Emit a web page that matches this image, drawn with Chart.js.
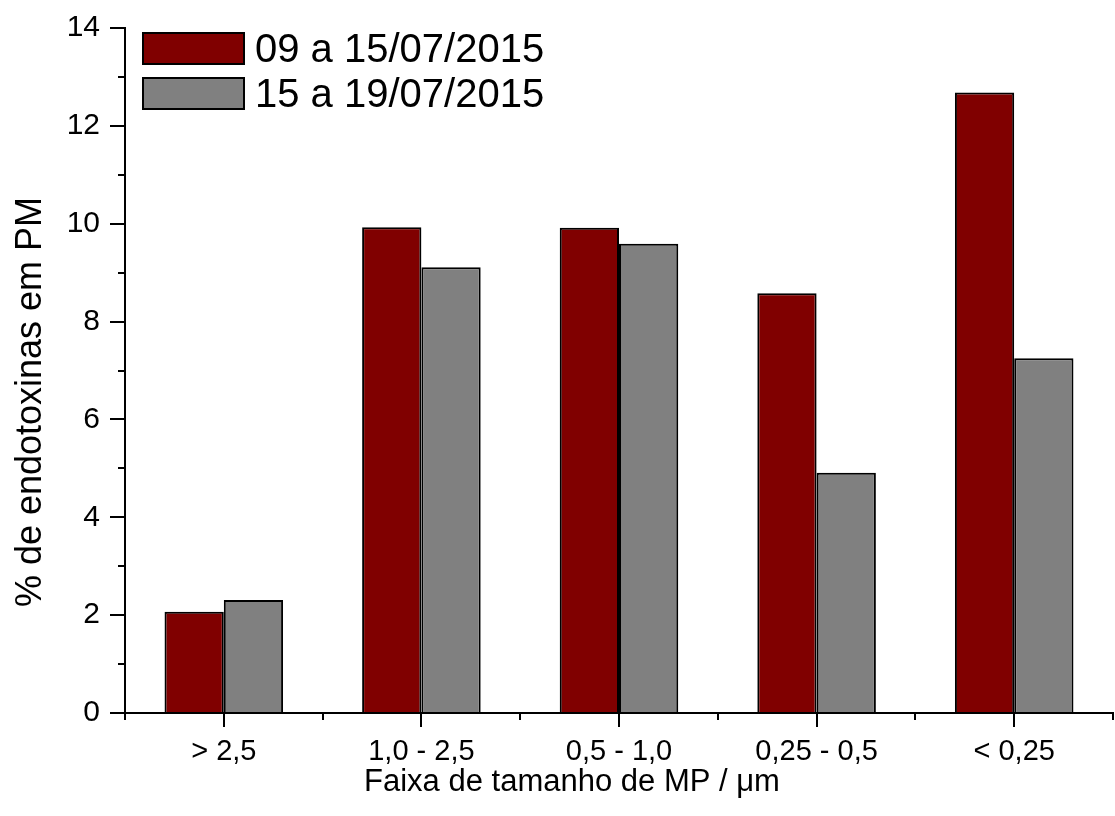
<!DOCTYPE html>
<html>
<head>
<meta charset="utf-8">
<script src="https://cdn.jsdelivr.net/npm/chart.js@4/dist/chart.umd.min.js"></script>
<style>
  html, body { margin: 0; padding: 0; background: #fff; }
  canvas { display: block; }
</style>
</head>
<body>
<canvas id="c" width="1115" height="816"></canvas>
<script>
// Size ranges of particulate matter (µm)
const categories = ['> 2,5', '1,0 - 2,5', '0,5 - 1,0', '0,25 - 0,5', '< 0,25'];
// Sampling periods
const seriesNames = ['09 a 15/07/2015', '15 a 19/07/2015'];
// % endotoxins in PM per size range
const period1 = [2.07, 9.93, 9.92, 8.58, 12.68];
const period2 = [2.31, 9.11, 9.59, 4.91, 7.25];
// Y axis tick values
const yTicks = [0, 2, 4, 6, 8, 10, 12, 14];
const yMinorTicks = [1, 3, 5, 7, 9, 11, 13];

const xTitle = 'Faixa de tamanho de MP / μm';
const yTitle = '% de endotoxinas em PM';

const FONT = '"Liberation Sans", Arial, sans-serif';
const colors = ['#800000', '#808080'];

// Minor ticks, axis titles and the boxed legend inside the plot area
const decor = {
  id: 'decor',
  afterDraw(chart) {
    const ctx = chart.ctx;
    const xs = chart.scales.x, ys = chart.scales.y;
    const area = chart.chartArea;
    ctx.save();
    ctx.strokeStyle = '#000';
    ctx.lineWidth = 2;
    // minor y ticks
    yMinorTicks.forEach(v => {
      const y = Math.round(ys.getPixelForValue(v));
      ctx.beginPath();
      ctx.moveTo(area.left - 7, y);
      ctx.lineTo(area.left, y);
      ctx.stroke();
    });
    // minor x ticks at category boundaries
    for (let i = 0; i <= categories.length; i++) {
      const x = Math.round(xs.getPixelForValue(i - 0.5));
      ctx.beginPath();
      ctx.moveTo(x, area.bottom);
      ctx.lineTo(x, area.bottom + 7);
      ctx.stroke();
    }
    // axis titles
    ctx.fillStyle = '#000';
    ctx.font = '31px ' + FONT;
    ctx.textAlign = 'center';
    ctx.textBaseline = 'alphabetic';
    ctx.fillText(xTitle, 572, 791);
    ctx.save();
    ctx.translate(41, 402);
    ctx.rotate(-Math.PI / 2);
    ctx.font = '36px ' + FONT;
    ctx.fillText(yTitle, 0, 0);
    ctx.restore();
    // legend
    ctx.font = '40px ' + FONT;
    ctx.textAlign = 'left';
    ctx.textBaseline = 'middle';
    chart.data.datasets.forEach((ds, i) => {
      const bx = 143, by = 33 + i * 45, bw = 101, bh = 31;
      ctx.fillStyle = ds.backgroundColor;
      ctx.fillRect(bx, by, bw, bh);
      ctx.strokeStyle = '#000';
      ctx.lineWidth = 2;
      ctx.strokeRect(bx, by, bw, bh);
      ctx.fillStyle = '#000';
      ctx.fillText(ds.label, 255, by + bh / 2 + 2);
    });
    ctx.restore();
  }
};

new Chart(document.getElementById('c'), {
  type: 'bar',
  data: {
    labels: categories,
    datasets: [
      { label: seriesNames[0], data: period1, backgroundColor: colors[0], borderColor: '#000', borderWidth: 2 },
      { label: seriesNames[1], data: period2, backgroundColor: colors[1], borderColor: '#000', borderWidth: 2 }
    ]
  },
  options: {
    responsive: false,
    animation: false,
    devicePixelRatio: 1,
    categoryPercentage: 0.6,
    barPercentage: 1.0,
    layout: { padding: { left: 0, top: 23, right: 2, bottom: 0 } },
    plugins: { legend: { display: false }, tooltip: { enabled: false } },
    scales: {
      x: {
        offset: true,
        grid: { display: true, offset: false, drawOnChartArea: false, tickLength: 14, color: '#000', lineWidth: 2 },
        border: { display: true, color: '#000', width: 2 },
        ticks: { color: '#000', font: { family: FONT, size: 29 }, padding: 8, maxRotation: 0 },
        afterFit(scale) { scale.height = 103; }
      },
      y: {
        min: 0,
        max: 14,
        afterBuildTicks(scale) { scale.ticks = yTicks.map(v => ({ value: v })); },
        grid: { display: true, drawOnChartArea: false, tickLength: 15, color: '#000', lineWidth: 2 },
        border: { display: true, color: '#000', width: 2 },
        ticks: { color: '#000', font: { family: FONT, size: 30 }, padding: 10 },
        afterFit(scale) { scale.width = 125; }
      }
    }
  },
  plugins: [decor]
});
</script>
</body>
</html>
